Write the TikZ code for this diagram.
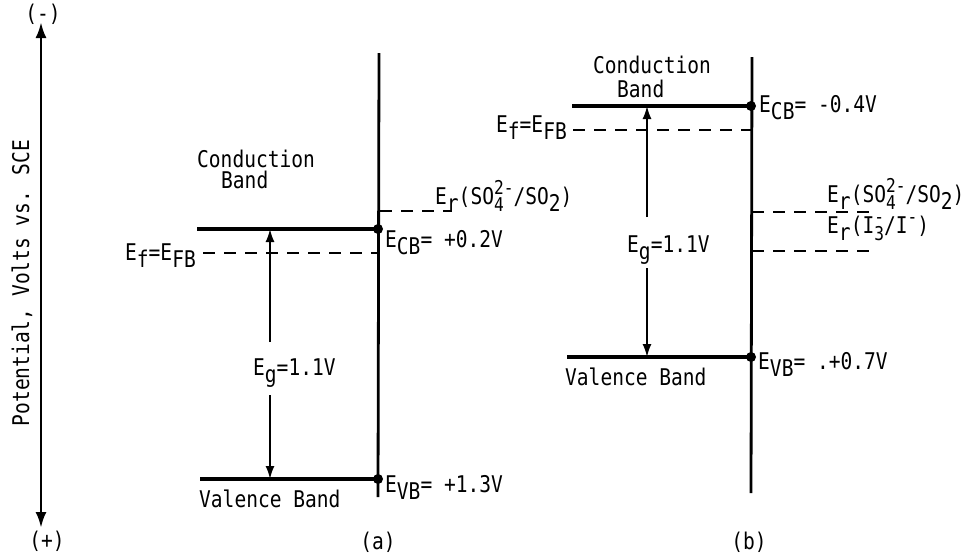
\documentclass[tikz,border=0pt]{standalone}
\usepackage{fontspec}
\newfontfamily\typefont[FakeStretch=0.85]{DejaVu Sans Mono}
\usetikzlibrary{arrows.meta,positioning}
\newcommand{\lo}[1]{\raisebox{-7pt}{#1}}
\newcommand{\hi}[1]{\raisebox{10pt}{\fontsize{19}{19}\selectfont #1}}
\newcommand{\both}[2]{\rlap{\lo{\fontsize{19}{19}\selectfont #2}}\hi{#1}}

\begin{document}
\begin{tikzpicture}[x=1pt, y=-1pt,
    band/.style={line width=3.4pt},
    wall/.style={line width=2.8pt},
    level/.style={line width=2pt, dash pattern=on 12pt off 9pt},
    gap/.style={line width=1.8pt, -{Latex[length=13pt,width=9pt]}},
    axis/.style={line width=2.8pt, {Latex[length=16pt,width=11pt]}-{Latex[length=16pt,width=11pt]}},
    txt/.style={font=\typefont\fontsize{23}{26}\selectfont, inner sep=0pt},
    dot/.style={circle, fill, inner sep=0pt, minimum size=10pt}
]
\useasboundingbox (0,0) rectangle (971,555);

% Potential axis
\coordinate (axtop) at (41,22);
\coordinate (axbot) at (41,528);
\draw[axis] (axbot) -- (axtop);
\node[txt] (neg) at (43,14) {(-)};
\node[txt, anchor=base] (pos) at (47,548) {(+)};
\node[txt, rotate=90] (axlabel) at (22,283) {Potential, Volts vs. SCE};

% Panel (a)
\coordinate (wallaT) at (379,53);
\coordinate (wallaB) at (378,497);
\draw[wall] (wallaT) -- (wallaB);

\coordinate (cbaL) at (197,229);
\coordinate (cbaR) at (378,229);
\draw[band] (cbaL) -- (cbaR);
\node[dot] (cbadot) at (cbaR) {};
\node[txt, anchor=base west] (ecba) at (385,247) {E\lo{CB}= +0.2V};
\node[txt, anchor=base west] (conda) at (197,167) {Conduction};
\node[txt, anchor=base west] (banda) at (221,188) {Band};

\coordinate (vbaL) at (200,479);
\coordinate (vbaR) at (378,479);
\draw[band] (vbaL) -- (vbaR);
\node[dot] (vbadot) at (vbaR) {};
\node[txt, anchor=base west] (evba) at (385,492) {E\lo{VB}= +1.3V};
\node[txt, anchor=base west] (vala) at (199,507) {Valence Band};

\coordinate (efaL) at (203,253);
\coordinate (efaR) at (378,253);
\draw[level] (efaL) -- (efaR);
\node[txt, anchor=base east] (efa) at (196,260) {E\lo{f}=E\lo{FB}};

\coordinate (eraL) at (380,211);
\coordinate (eraR) at (452,211);
\draw[level] (eraL) -- (eraR);
\node[txt, anchor=base west] (era) at (435,204) {E\lo{r}(SO\both{2-}{4}/SO\lo{2})};

\node[txt, anchor=base west] (ega) at (253,375) {E\lo{g}=1.1V};
\coordinate (gapaU) at (270,342);
\coordinate (gapaD) at (270,395);
\draw[gap] (gapaU) -- (gapaU |- cbaR);
\draw[gap] (gapaD) -- (gapaD |- vbaR);

\node[txt, anchor=base] (capa) at (378,549) {(a)};

% Panel (b)
\coordinate (wallbT) at (752,57);
\coordinate (wallbB) at (751,493);
\draw[wall] (wallbT) -- (wallbB);

\coordinate (cbbL) at (572,106);
\coordinate (cbbR) at (751,106);
\draw[band] (cbbL) -- (cbbR);
\node[dot] (cbbdot) at (cbbR) {};
\node[txt, anchor=base west] (ecbb) at (759,112) {E\lo{CB}= -0.4V};
\node[txt, anchor=base west] (condb) at (593,73) {Conduction};
\node[txt, anchor=base west] (bandb) at (617,97) {Band};

\coordinate (vbbL) at (567,357);
\coordinate (vbbR) at (751,357);
\draw[band] (vbbL) -- (vbbR);
\node[dot] (vbbdot) at (vbbR) {};
\node[txt, anchor=base west] (evbb) at (758,369) {E\lo{VB}= .+0.7V};
\node[txt, anchor=base west] (valb) at (565,385) {Valence Band};

\coordinate (efbL) at (573,130);
\coordinate (efbR) at (751,130);
\draw[level] (efbL) -- (efbR);
\node[txt, anchor=base east] (efb) at (567,132) {E\lo{f}=E\lo{FB}};

\coordinate (erbL) at (752,212);
\coordinate (erbR) at (872,212);
\draw[level] (erbL) -- (erbR);
\node[txt, anchor=base west] (erb) at (827,202) {E\lo{r}(SO\both{2-}{4}/SO\lo{2})};

\coordinate (eriL) at (752,251);
\coordinate (eriR) at (872,251);
\draw[level] (eriL) -- (eriR);
\node[txt, anchor=base west] (eri) at (827,233) {E\lo{r}(I\both{-}{3}/I\hi{-})};

\node[txt, anchor=base west] (egb) at (627,252) {E\lo{g}=1.1V};
\coordinate (gapbU) at (647,217);
\coordinate (gapbD) at (647,268);
\draw[gap] (gapbU) -- (gapbU |- cbbR);
\draw[gap] (gapbD) -- (gapbD |- vbbR);

\node[txt, anchor=base] (capb) at (749,549) {(b)};
\end{tikzpicture}
\end{document}
